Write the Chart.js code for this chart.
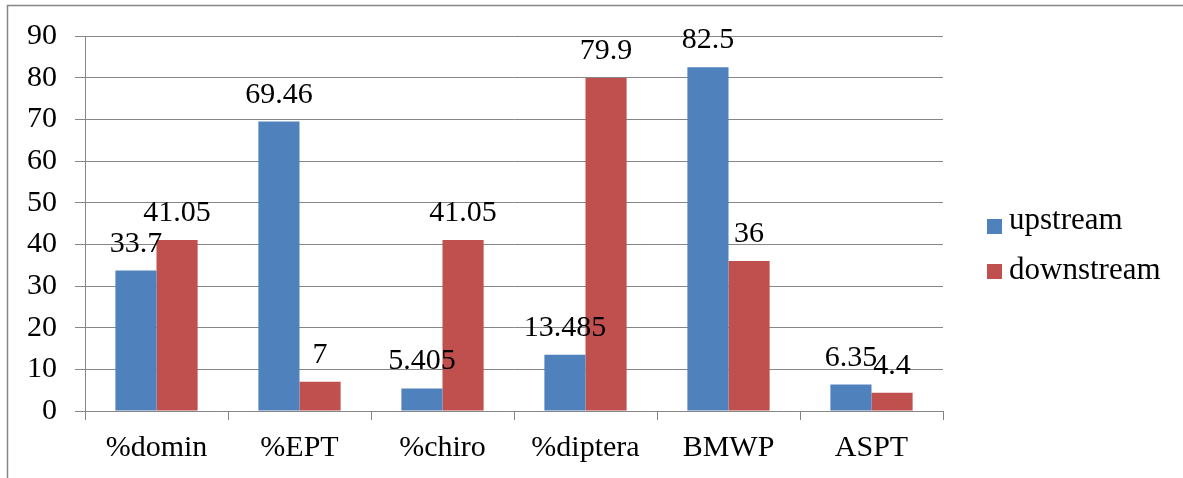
<!DOCTYPE html>
<html>
<head>
<meta charset="utf-8">
<script src="https://cdn.jsdelivr.net/npm/chart.js@4.4.1/dist/chart.umd.min.js"></script>
<style>
  html, body { margin: 0; padding: 0; background: #ffffff; }
  #wrap { width: 1183px; height: 478px; }
  canvas { display: block; }
</style>
</head>
<body>
<div id="wrap"><canvas id="chart" width="1183" height="478"></canvas></div>
<script>
// Benthic macroinvertebrate metrics, upstream vs downstream
const categories = ['%domin', '%EPT', '%chiro', '%diptera', 'BMWP', 'ASPT'];
const upstream = [33.7, 69.46, 5.405, 13.485, 82.5, 6.35];
const downstream = [41.05, 7, 41.05, 79.9, 36, 4.4];
const seriesNames = ['upstream', 'downstream'];
const yMin = 0;
const yMax = 90;
const yStep = 10;

const SERIF = '"Liberation Serif", "Times New Roman", Times, serif';
const GRID = '#868686';
const COLORS = ['#4F81BD', '#C0504D'];

// Outer frame of the chart object
const framePlugin = {
  id: 'frame',
  beforeDraw(chart) {
    const ctx = chart.ctx;
    ctx.save();
    ctx.strokeStyle = GRID;
    ctx.lineWidth = 1.5;
    ctx.beginPath();
    ctx.moveTo(7.5, chart.height);
    ctx.lineTo(7.5, 5.5);
    ctx.lineTo(chart.width, 5.5);
    ctx.stroke();
    ctx.restore();
  }
};

// Value labels above each bar
const valueLabels = {
  id: 'valueLabels',
  afterDatasetsDraw(chart) {
    const ctx = chart.ctx;
    ctx.save();
    ctx.font = '30px ' + SERIF;
    ctx.fillStyle = '#000000';
    ctx.textAlign = 'center';
    ctx.textBaseline = 'alphabetic';
    chart.data.datasets.forEach((ds, i) => {
      const meta = chart.getDatasetMeta(i);
      meta.data.forEach((bar, j) => {
        ctx.fillText(String(ds.data[j]), bar.x, bar.y - 19);
      });
    });
    ctx.restore();
  }
};

// Legend on the right, square swatch + series name
const sideLegend = {
  id: 'sideLegend',
  afterDraw(chart) {
    const ctx = chart.ctx;
    ctx.save();
    ctx.font = '31px ' + SERIF;
    ctx.textAlign = 'left';
    ctx.textBaseline = 'alphabetic';
    const x0 = 987;
    const box = 15;
    chart.data.datasets.forEach((ds, i) => {
      const boxTop = 219 + i * 45;
      const baseline = 229 + i * 50;
      ctx.fillStyle = ds.backgroundColor;
      ctx.fillRect(x0, boxTop, box, box);
      ctx.fillStyle = '#000000';
      ctx.fillText(ds.label, x0 + 22, baseline);
    });
    ctx.restore();
  }
};

new Chart(document.getElementById('chart'), {
  type: 'bar',
  data: {
    labels: categories,
    datasets: [
      { label: seriesNames[0], data: upstream, backgroundColor: COLORS[0], borderWidth: 0 },
      { label: seriesNames[1], data: downstream, backgroundColor: COLORS[1], borderWidth: 0 }
    ]
  },
  options: {
    responsive: false,
    animation: false,
    devicePixelRatio: 1,
    layout: { padding: { top: 36, left: 0, right: 240, bottom: 0 } },
    datasets: {
      bar: { categoryPercentage: 0.575, barPercentage: 1.0 }
    },
    plugins: {
      legend: { display: false },
      tooltip: { enabled: false }
    },
    scales: {
      x: {
        offset: true,
        grid: {
          offset: true,
          drawOnChartArea: false,
          drawTicks: true,
          tickLength: 9,
          color: GRID
        },
        border: { display: true, color: GRID, width: 1 },
        ticks: {
          font: { family: SERIF, size: 30 },
          color: '#000000',
          padding: 10,
          autoSkip: false,
          maxRotation: 0
        },
        afterFit(scale) { scale.height = 67; }
      },
      y: {
        min: yMin,
        max: yMax,
        grid: { color: GRID, tickLength: 10, drawTicks: true },
        border: { display: true, color: GRID, width: 1 },
        ticks: {
          stepSize: yStep,
          font: { family: SERIF, size: 30 },
          color: '#000000',
          padding: 18
        },
        afterFit(scale) { scale.width = 85; }
      }
    }
  },
  plugins: [framePlugin, valueLabels, sideLegend]
});
</script>
</body>
</html>
